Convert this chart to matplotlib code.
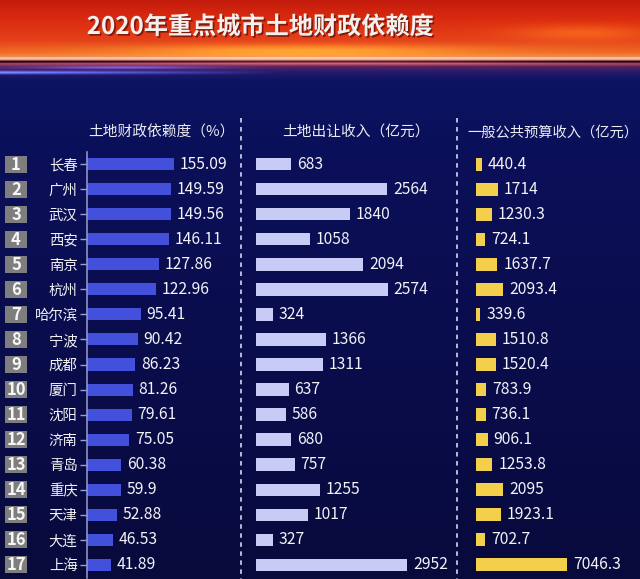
import numpy as np
import matplotlib
matplotlib.use('Agg')
import matplotlib.pyplot as plt
from matplotlib import patheffects as pe
from matplotlib.colors import to_rgb

plt.rcParams['font.family'] = ['Noto Sans CJK SC', 'DejaVu Sans']

# ---------------- data ----------------
title = '2020年重点城市土地财政依赖度'
ranks = list(range(1, 18))
cities = ['长春', '广州', '武汉', '西安', '南京', '杭州', '哈尔滨', '宁波', '成都',
          '厦门', '沈阳', '济南', '青岛', '重庆', '天津', '大连', '上海']
dependency = [155.09, 149.59, 149.56, 146.11, 127.86, 122.96, 95.41, 90.42, 86.23,
              81.26, 79.61, 75.05, 60.38, 59.9, 52.88, 46.53, 41.89]
land_income = [683, 2564, 1840, 1058, 2094, 2574, 324, 1366, 1311,
               637, 586, 680, 757, 1255, 1017, 327, 2952]
budget_income = [440.4, 1714, 1230.3, 724.1, 1637.7, 2093.4, 339.6, 1510.8, 1520.4,
                 783.9, 736.1, 906.1, 1253.8, 2095, 1923.1, 702.7, 7046.3]
headers = ['土地财政依赖度（%）', '土地出让收入（亿元）', '一般公共预算收入（亿元）']

# ---------------- figure ----------------
W, H = 640, 579
fig = plt.figure(figsize=(W / 100, H / 100), dpi=100)

# background gradient (decoration)
yy = np.arange(H, dtype=float)[:, None]
xx = np.arange(W, dtype=float)[None, :]
stops = [0, 20, 40, 52, 56, 57.5, 59, 61, 63, 66, 72, 80, 140, 579]
cols = ['#c41c0c', '#dc2c10', '#e4421a', '#ee6a26', '#f08a48', '#fad0c0', '#f0a090',
        '#5a1a30', '#d86070', '#5a2260', '#22196a', '#0c1462', '#0b105a', '#080a3c']
cols = np.array([to_rgb(c) for c in cols])
img = np.zeros((H, W, 3))
for k in range(3):
    img[:, :, k] = np.interp(np.arange(H), stops, cols[:, k])[:, None]
# warm glow centre
g = np.exp(-((xx - 300) / 170) ** 2) * np.exp(-((yy - 50) / 6) ** 2)
img += g[:, :, None] * np.array([0.1, 0.25, 0.05])
g2 = np.exp(-((xx - 580) / 70) ** 2) * np.exp(-((yy - 32) / 8) ** 2)
img += g2[:, :, None] * np.array([0.08, 0.15, 0.02])
# pink line fades on edges
pl = np.exp(-((yy - 62) / 2.0) ** 2) * (1 - np.exp(-((xx - 330) / 260) ** 2))
img -= pl[:, :, None] * np.array([0.35, 0.2, 0.2])
# blue streak on left
bs = np.exp(-((yy - 72) / 1.6) ** 2) * np.clip(1 - xx / 280, 0, 1)
img += bs[:, :, None] * np.array([0.35, 0.45, 0.75])
bs2 = np.exp(-((yy - 67) / 1.4) ** 2) * np.exp(-((xx - 120) / 90) ** 2)
img += bs2[:, :, None] * np.array([0.2, 0.25, 0.5])
img = np.clip(img, 0, 1)

bg = fig.add_axes([0, 0, 1, 1])
bg.imshow(img, aspect='auto', extent=[0, W, H, 0], interpolation='bilinear')
bg.set_xlim(0, W)
bg.set_ylim(H, 0)
bg.axis('off')

# title
bg.text(260, 27, title, ha='center', va='center', fontsize=17.4, fontweight='bold',
        color='#f4f0ee',
        path_effects=[pe.withSimplePatchShadow(offset=(1.2, -1.2), shadow_rgbFace='#6a1208', alpha=0.8)])

# headers
hdr_kw = dict(color='#ececf4', va='center')
bg.text(161, 133, headers[0], ha='center', fontsize=10.6, **hdr_kw)
bg.text(356, 133, headers[1], ha='center', fontsize=10.6, **hdr_kw)
bg.text(467, 133, headers[2], ha='left', fontsize=10.3, **hdr_kw)

# dashed separators
for x in (241, 457):
    bg.plot([x, x], [118, H], color='#c4c8e6', lw=1.3, ls=(0, (2.5, 2.5)))

# row geometry
top_px, bot_px = 151.5, 577.5
ab = 1 - bot_px / H
ah = (bot_px - top_px) / H
n = len(cities)
rows = np.arange(n)

def px(x):
    return x / W

# badge axes
axb = fig.add_axes([0, ab, px(87), ah])
axb.set_xlim(0, 87)
axb.set_ylim(n - 0.5, -0.5)
axb.axis('off')
axb.barh(rows, [22] * n, left=5, height=0.68, color='#7e7e7e')
for r, rk in zip(rows, ranks):
    axb.text(16, r + 0.02, str(rk), ha='center', va='center', fontsize=12,
             fontweight='bold', color='#f6f6f6')

text_kw = dict(va='center', ha='left', fontsize=11.3, color='#f2f2f8',
               textcoords='offset points', xytext=(4.3, 0))

# column 1
ax1 = fig.add_axes([px(87), ab, px(241 - 87), ah])
ax1.set_facecolor('none')
ax1.set_xlim(0, 154 / 0.561)
ax1.set_ylim(n - 0.5, -0.5)
ax1.barh(rows, dependency, height=0.48, color='#4350dc')
for r, v in zip(rows, dependency):
    ax1.annotate(f'{v:g}', (v, r), **text_kw)
ax1.set_yticks(rows)
ax1.set_yticklabels(cities, fontsize=10.4, color='#f0f0f4')
ax1.tick_params(axis='y', length=5, width=1, color='#9aa0d0', pad=1.8)
ax1.set_xticks([])
for s in ('top', 'right', 'bottom'):
    ax1.spines[s].set_visible(False)
ax1.spines['left'].set_color('#8c92c8')
ax1.spines['left'].set_linewidth(1.2)

# column 2
ax2 = fig.add_axes([px(256), ab, px(457 - 256), ah])
ax2.set_facecolor('none')
ax2.set_xlim(0, 201 / 0.0511)
ax2.set_ylim(n - 0.5, -0.5)
ax2.barh(rows, land_income, height=0.5, color='#c7cbf6')
for r, v in zip(rows, land_income):
    ax2.annotate(f'{v:g}', (v, r), **text_kw)
ax2.axis('off')

# column 3
ax3 = fig.add_axes([px(476), ab, px(W - 476), ah])
ax3.set_facecolor('none')
ax3.set_xlim(0, 164 / 0.01292)
ax3.set_ylim(n - 0.5, -0.5)
ax3.barh(rows, budget_income, height=0.52, color='#f3cf4c')
for r, v in zip(rows, budget_income):
    ax3.annotate(f'{v:g}', (v, r), **text_kw)
ax3.axis('off')

fig.savefig('out.png', dpi=100)
